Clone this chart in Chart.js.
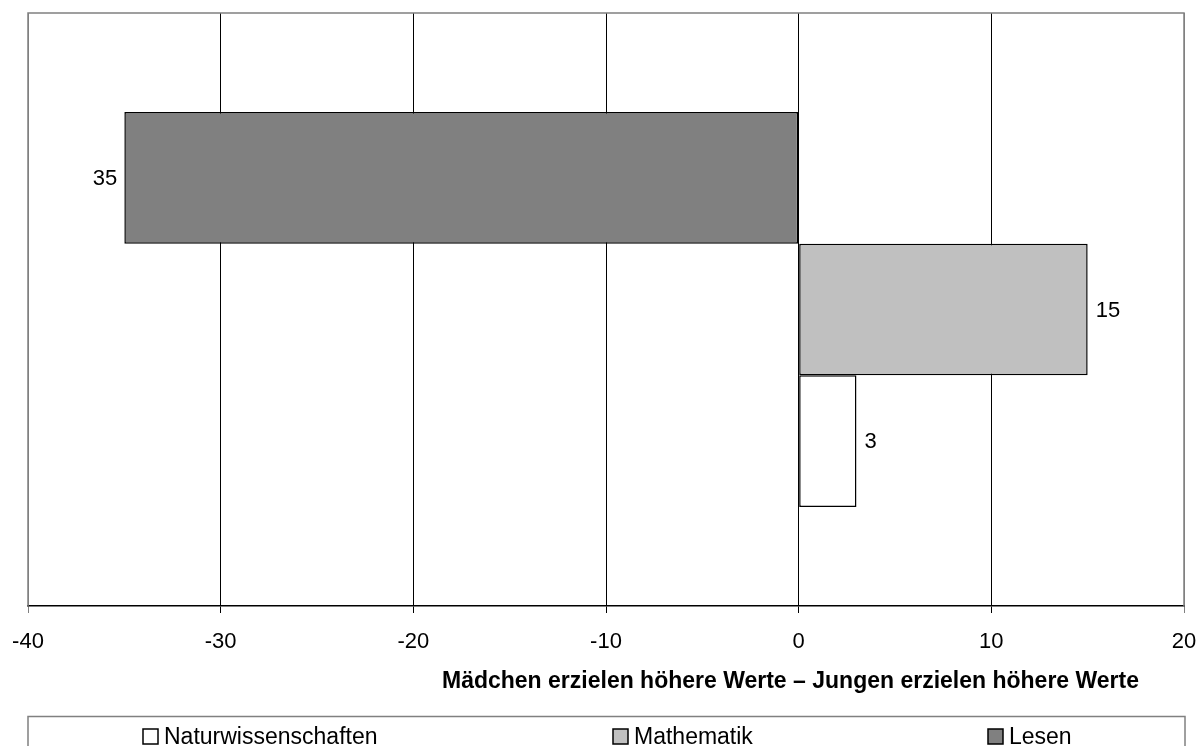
<!DOCTYPE html>
<html>
<head>
<meta charset="utf-8">
<script src="https://cdn.jsdelivr.net/npm/chart.js@4/dist/chart.umd.min.js"></script>
<style>
  html, body { margin: 0; padding: 0; background: #fff; }
  #wrap { width: 1200px; height: 746px; }
</style>
</head>
<body>
<div id="wrap"><canvas id="chartCanvas" width="1200" height="746"></canvas></div>
<script>
// ============================================
// DATA
// ============================================
const categories = [''];
const seriesNames = ['Lesen', 'Mathematik', 'Naturwissenschaften'];
const seriesValues = [[-35], [15], [3]];
const seriesLabels = ['35', '15', '3'];
const seriesColors = ['#808080', '#C0C0C0', '#FFFFFF'];
const legendOrder = ['Naturwissenschaften', 'Mathematik', 'Lesen'];
const xTicks = [-40, -30, -20, -10, 0, 10, 20];
const axisTitle = 'Mädchen erzielen höhere Werte – Jungen erzielen höhere Werte';

const FONT = '"Liberation Sans", Arial, sans-serif';

// labels next to bar ends, plot frame, axis title and legend box
const extrasPlugin = {
    id: 'extras',
    beforeDatasetsDraw: function(chart) {
        const ctx = chart.ctx;
        const a = chart.chartArea;
        ctx.save();
        ctx.strokeStyle = '#808080';
        ctx.lineWidth = 1.5;
        ctx.beginPath();
        ctx.moveTo(a.left, a.bottom);
        ctx.lineTo(a.left, a.top);
        ctx.lineTo(a.right, a.top);
        ctx.lineTo(a.right, a.bottom);
        ctx.stroke();
        ctx.restore();
    },
    afterDatasetsDraw: function(chart) {
        const ctx = chart.ctx;
        ctx.save();
        ctx.font = '22px ' + FONT;
        ctx.fillStyle = '#000';
        ctx.textBaseline = 'middle';
        chart.data.datasets.forEach(function(ds, i) {
            const meta = chart.getDatasetMeta(i);
            meta.data.forEach(function(bar) {
                const v = ds.data[0];
                if (v < 0) {
                    ctx.textAlign = 'right';
                    ctx.fillText(seriesLabels[i], bar.x - 7, bar.y + 1);
                } else {
                    ctx.textAlign = 'left';
                    ctx.fillText(seriesLabels[i], bar.x + 8, bar.y + 1);
                }
            });
        });
        ctx.restore();
    },
    afterDraw: function(chart) {
        const ctx = chart.ctx;
        const a = chart.chartArea;
        ctx.save();

        // axis title
        ctx.font = 'bold 23px ' + FONT;
        ctx.fillStyle = '#000';
        ctx.textAlign = 'center';
        ctx.textBaseline = 'alphabetic';
        ctx.fillText(axisTitle, 790.5, 688);

        // legend box
        ctx.strokeStyle = '#808080';
        ctx.lineWidth = 1.5;
        ctx.strokeRect(a.left, 716.5, a.right - a.left + 1, 60);

        const legendX = [143, 613, 988];
        ctx.font = '23px ' + FONT;
        ctx.textAlign = 'left';
        legendOrder.forEach(function(name, k) {
            const i = seriesNames.indexOf(name);
            const x = legendX[k];
            ctx.fillStyle = seriesColors[i];
            ctx.fillRect(x, 729, 15, 15);
            ctx.strokeStyle = '#000';
            ctx.lineWidth = 1.5;
            ctx.strokeRect(x, 729, 15, 15);
            ctx.fillStyle = '#000';
            ctx.fillText(name, x + 21, 744);
        });
        ctx.restore();
    }
};

const datasets = seriesNames.map(function(name, i) {
    return {
        label: name,
        data: seriesValues[i],
        backgroundColor: seriesColors[i],
        borderColor: '#000',
        borderWidth: 1.5,
        borderSkipped: false,
        barPercentage: 1.0,
        categoryPercentage: 0.666
    };
});

const ctx = document.getElementById('chartCanvas').getContext('2d');
const myChart = new Chart(ctx, {
    type: 'bar',
    data: { labels: categories, datasets: datasets },
    plugins: [extrasPlugin],
    options: {
        indexAxis: 'y',
        responsive: false,
        animation: false,
        layout: { padding: { left: 28, right: 16, top: 13, bottom: 0 } },
        plugins: {
            legend: { display: false },
            tooltip: { enabled: false }
        },
        scales: {
            x: {
                min: xTicks[0],
                max: xTicks[xTicks.length - 1],
                afterBuildTicks: function(scale) {
                    scale.ticks = xTicks.map(function(v) { return { value: v }; });
                },
                afterFit: function(scale) {
                    scale.height = 140;
                    scale.paddingLeft = 0;
                    scale.paddingRight = 0;
                },
                grid: {
                    color: function(c) {
                        return (c.index === 0 || c.index === xTicks.length - 1) ? '#808080' : '#000';
                    },
                    lineWidth: 1,
                    tickLength: 7,
                    drawTicks: true
                },
                border: { color: '#000', width: 1.5 },
                ticks: {
                    color: '#000',
                    font: { family: FONT, size: 22 },
                    padding: 16,
                    maxRotation: 0
                }
            },
            y: {
                display: false
            }
        }
    }
});
</script>
</body>
</html>
